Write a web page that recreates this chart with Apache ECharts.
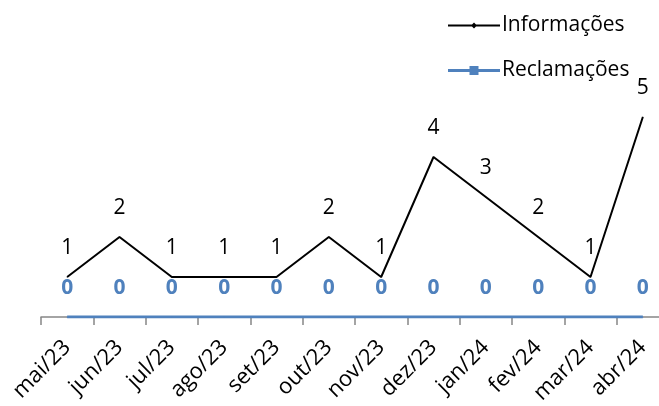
<!DOCTYPE html>
<html>
<head>
<meta charset="utf-8">
<script src="https://cdn.jsdelivr.net/npm/echarts@6/dist/echarts.min.js"></script>
<style>
  * { margin: 0; padding: 0; }
  body { background: #fff; }
  #chart { width: 659px; height: 406px; }
</style>
</head>
<body>
<div id="chart"></div>
<script>
const months = ['mai/23', 'jun/23', 'jul/23', 'ago/23', 'set/23', 'out/23', 'nov/23', 'dez/23', 'jan/24', 'fev/24', 'mar/24', 'abr/24']
const informacoes = [1, 2, 1, 1, 1, 2, 1, 4, 3, 2, 1, 5]
const reclamacoes = [0, 0, 0, 0, 0, 0, 0, 0, 0, 0, 0, 0]

const font = '"Open Sans", Lato, sans-serif'
const chart = echarts.init(document.getElementById('chart'))

chart.setOption({
  animation: false,
  grid: { left: 41, right: -10, top: 117, bottom: 89, outerBoundsMode: 'none', containLabel: false },
  legend: {
    orient: 'vertical',
    left: 443,
    top: 10,
    itemGap: 24,
    itemWidth: 52,
    itemHeight: 10,
    textStyle: { fontFamily: font, fontSize: 21, color: '#000', padding: [0, 0, 0, -3] },
    data: [
      { name: 'Informações', icon: 'path://M0,4H52V6H0Z M26,2L29,5L26,8L23,5Z' },
      { name: 'Reclamações', icon: 'path://M0,3.6H52V6.4H0Z M21.5,0.5H30.5V9.5H21.5Z' }
    ]
  },
  xAxis: {
    type: 'category',
    data: months,
    boundaryGap: true,
    axisLine: { show: true, lineStyle: { color: '#868686', width: 1.5 } },
    axisTick: { show: true, length: 8, interval: 0, lineStyle: { color: '#868686', width: 1.5 } },
    axisLabel: { rotate: 45, color: '#000', fontFamily: font, fontSize: 22, margin: 27, interval: 0 }
  },
  yAxis: {
    type: 'value',
    min: 0,
    max: 5,
    show: false
  },
  series: [
    {
      name: 'Informações',
      type: 'line',
      data: informacoes,
      symbol: 'circle',
      symbolSize: 1,
      lineStyle: { color: '#000', width: 2 },
      itemStyle: { color: '#000' },
      label: { show: true, position: 'top', distance: 18, color: '#000', fontFamily: font, fontSize: 21 }
    },
    {
      name: 'Reclamações',
      type: 'line',
      data: reclamacoes,
      z: 5,
      symbol: 'circle',
      symbolSize: 1,
      lineStyle: { color: '#4f81bd', width: 3 },
      itemStyle: { color: '#4f81bd' },
      label: { show: true, position: 'top', distance: 18, color: '#4f81bd', fontWeight: 'bold', fontFamily: font, fontSize: 21 }
    }
  ]
})
</script>
</body>
</html>
